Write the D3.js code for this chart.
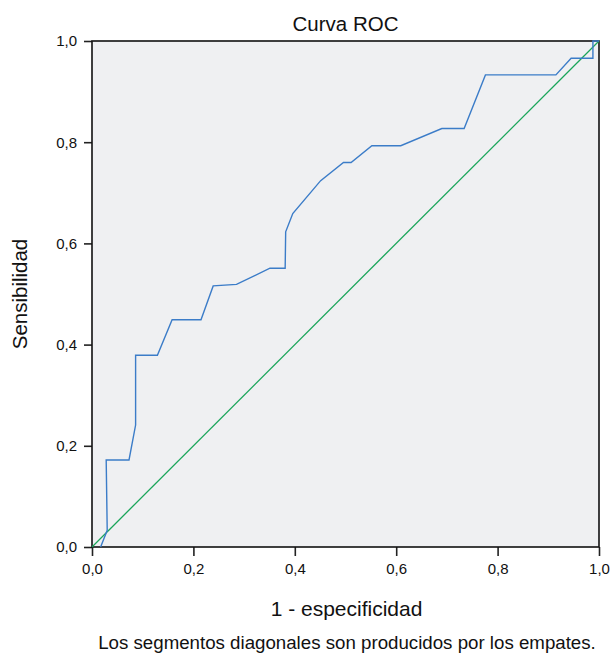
<!DOCTYPE html>
<html lang="es">
<head>
<meta charset="UTF-8">
<title>Curva ROC</title>
<script src="https://d3js.org/d3.v7.min.js"></script>
<style>
  body { margin: 0; background: #fff; }
  svg { display: block; font-family: "Liberation Sans", Arial, sans-serif; }
  .tick text { font-size: 15px; fill: #111; }
  .tick line { stroke: #222; }
  .domain { display: none; }
</style>
</head>
<body>
<script>
// ROC curve: 1 - specificity (x) and sensitivity (y)
const fpr = [0.017, 0.030, 0.028, 0.073, 0.086, 0.086, 0.129, 0.158, 0.215, 0.239,
             0.285, 0.351, 0.381, 0.382, 0.396, 0.451, 0.496, 0.511, 0.552, 0.609,
             0.690, 0.734, 0.776, 0.915, 0.945, 0.988, 0.988, 1.0];
const tpr = [0.0, 0.033, 0.172, 0.172, 0.241, 0.379, 0.379, 0.449, 0.449, 0.516,
             0.519, 0.551, 0.551, 0.623, 0.659, 0.724, 0.760, 0.760, 0.793, 0.793,
             0.827, 0.827, 0.933, 0.933, 0.966, 0.966, 1.0, 1.0];
// reference line
const refX = [0, 1];
const refY = [0, 1];
const tickValues = [0, 0.2, 0.4, 0.6, 0.8, 1.0];

const width = 610, height = 654;
const margin = { left: 92, right: 11, top: 41, bottom: 107 };

const svg = d3.select("body").append("svg")
  .attr("width", width)
  .attr("height", height);

const x = d3.scaleLinear().domain([0, 1]).range([margin.left, width - margin.right]);
const y = d3.scaleLinear().domain([0, 1]).range([height - margin.bottom, margin.top]);

const fmt = d => d3.format(".1f")(d).replace(".", ",");

// plot background
svg.append("rect")
  .attr("x", x(0)).attr("y", y(1))
  .attr("width", x(1) - x(0)).attr("height", y(0) - y(1))
  .attr("fill", "#eff0f2");

// axes
svg.append("g")
  .attr("transform", `translate(0,${y(0)})`)
  .call(d3.axisBottom(x).tickValues(tickValues).tickFormat(fmt).tickSizeOuter(0).tickSize(9).tickPadding(7))
  .selectAll(".tick line").attr("stroke-width", 1.6);

svg.append("g")
  .attr("transform", `translate(${x(0)},0)`)
  .call(d3.axisLeft(y).tickValues(tickValues).tickFormat(fmt).tickSizeOuter(0).tickSize(8).tickPadding(7))
  .selectAll(".tick line").attr("stroke-width", 1.6);

// frame
svg.append("rect")
  .attr("x", x(0)).attr("y", y(1))
  .attr("width", x(1) - x(0)).attr("height", y(0) - y(1))
  .attr("fill", "none")
  .attr("stroke", "#111")
  .attr("stroke-width", 1.6);

const line = d3.line().x(d => x(d[0])).y(d => y(d[1]));

svg.append("path")
  .datum(d3.zip(refX, refY))
  .attr("fill", "none")
  .attr("stroke", "#1aa55a")
  .attr("stroke-width", 1.3)
  .attr("d", line);

svg.append("path")
  .datum(d3.zip(fpr, tpr))
  .attr("fill", "none")
  .attr("stroke", "#3b7cc8")
  .attr("stroke-width", 1.4)
  .attr("d", line);

// titles
svg.append("text")
  .attr("x", (x(0) + x(1)) / 2).attr("y", 31)
  .attr("text-anchor", "middle")
  .attr("font-size", 20.5)
  .attr("fill", "#111")
  .text("Curva ROC");

svg.append("text")
  .attr("x", (x(0) + x(1)) / 2 + 1).attr("y", 616)
  .attr("text-anchor", "middle")
  .attr("font-size", 21)
  .attr("fill", "#111")
  .text("1 - especificidad");

svg.append("text")
  .attr("transform", `translate(27,${(y(0) + y(1)) / 2}) rotate(-90)`)
  .attr("text-anchor", "middle")
  .attr("font-size", 20.5)
  .attr("fill", "#111")
  .text("Sensibilidad");

svg.append("text")
  .attr("x", 347).attr("y", 649)
  .attr("text-anchor", "middle")
  .attr("font-size", 18.7)
  .attr("fill", "#111")
  .text("Los segmentos diagonales son producidos por los empates.");
</script>
</body>
</html>
